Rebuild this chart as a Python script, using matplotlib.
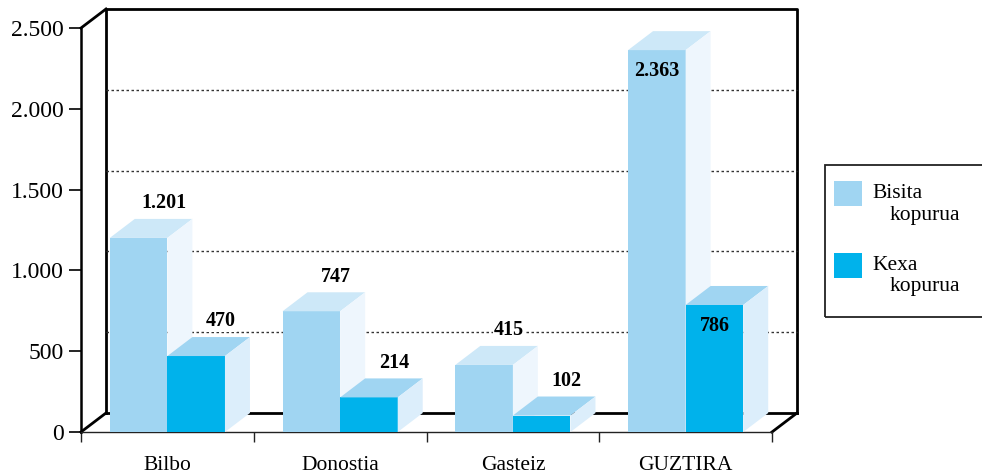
import numpy as np
import matplotlib
matplotlib.use('Agg')
import matplotlib.pyplot as plt
from matplotlib.patches import Polygon, Rectangle

# Data
categories = ['Bilbo', 'Donostia', 'Gasteiz', 'GUZTIRA']
bisita = [1201, 747, 415, 2363]
kexa = [470, 214, 102, 786]
series_names = ['Bisita\nkopurua', 'Kexa\nkopurua']
yticks = [0, 500, 1000, 1500, 2000, 2500]
ytick_labels = ['0', '500', '1.000', '1.500', '2.000', '2.500']
labels_inside = [False, False, False, True]

# Colours: front, top, side
bisita_cols = ('#a0d5f2', '#cde8f8', '#eef6fd')
kexa_cols = ('#00b2eb', '#a0d5f2', '#dceefb')

fig = plt.figure(figsize=(9.82, 4.73), dpi=100)
ax = fig.add_axes([81 / 982, 41 / 473, 691 / 982, 404 / 473])
ax.set_xlim(-0.5, len(categories) - 0.5)
ax.set_ylim(0, 2500)

# depth offset of the pseudo 3D look (25 px right, 19 px up)
dx = 25 / (691 / len(categories))
dy = 19 / (404 / 2500)
w = 1 / 3
x = np.arange(len(categories))
x0, x1 = -0.5, len(categories) - 0.5

# back wall, floor edges and dotted grid
wall = dict(color='black', lw=2, clip_on=False, zorder=1, solid_capstyle='projecting')
ax.plot([x0 + dx, x0 + dx, x1 + dx, x1 + dx], [dy, 2500 + dy, 2500 + dy, dy], **wall)
ax.plot([x0 + dx, x1 + dx], [dy, dy], **wall)
ax.plot([x0, x0 + dx], [2500, 2500 + dy], **wall)
ax.plot([x0, x0 + dx], [0, dy], **wall)
ax.plot([x1, x1 + dx], [0, dy], **wall)
for v in yticks[1:-1]:
    ax.plot([x0 + dx, x1 + dx], [v + dy, v + dy], color='#333333', lw=1.0,
            ls=(0, (1.8, 1.8)), clip_on=False, zorder=1)


def draw_bar(xl, val, cols):
    front, top, side = cols
    ax.bar(xl, val, w, align='edge', color=front, zorder=3, linewidth=0)
    ax.add_patch(Polygon([(xl, val), (xl + dx, val + dy), (xl + w + dx, val + dy), (xl + w, val)],
                         closed=True, fc=top, ec='none', zorder=3, clip_on=False))
    ax.add_patch(Polygon([(xl + w, 0), (xl + w, val), (xl + w + dx, val + dy), (xl + w + dx, dy)],
                         closed=True, fc=side, ec='none', zorder=3, clip_on=False))


def fmt(v):
    return f'{v:,}'.replace(',', '.')


for i, c in enumerate(x):
    for xl, val, cols in [(c - w, bisita[i], bisita_cols), (c, kexa[i], kexa_cols)]:
        draw_bar(xl, val, cols)
        if labels_inside[i]:
            ax.annotate(fmt(val), (xl + w / 2, val), xytext=(0, -8), textcoords='offset points',
                        ha='center', va='top', fontsize=14.5, fontweight='bold',
                        family='Liberation Serif', zorder=5)
        else:
            ax.annotate(fmt(val), (xl + w / 2 + dx, val + dy), xytext=(0, 4), textcoords='offset points',
                        ha='center', va='bottom', fontsize=14.5, fontweight='bold',
                        family='Liberation Serif', zorder=5,
                        bbox=dict(fc='white', ec='none', pad=0.5))

# axes styling
for s in ['top', 'right']:
    ax.spines[s].set_visible(False)
ax.spines['left'].set_linewidth(1.8)
ax.spines['bottom'].set_linewidth(1.0)
ax.spines['bottom'].set_color('#222222')
ax.set_yticks(yticks)
ax.set_yticklabels(ytick_labels, family='Liberation Serif', fontsize=17)
ax.tick_params(axis='y', length=8.5, width=1.2, pad=4)
ax.set_xticks(x)
ax.set_xticklabels(categories, family='Liberation Serif', fontsize=15.5)
ax.set_xticks(np.arange(len(categories) + 1) - 0.5, minor=True)
ax.tick_params(axis='x', which='major', length=0, pad=17)
ax.tick_params(axis='x', which='minor', length=7.5, width=1.0, color='#222222')
ax.patch.set_visible(False)

# legend drawn by hand (box runs off the right edge)
fig.patches.append(Rectangle((825 / 982, 156 / 473), 0.2, 152 / 473, transform=fig.transFigure,
                             fill=False, ec='#222222', lw=1.3))
for j, (name, col) in enumerate(zip(series_names, [bisita_cols[0], kexa_cols[0]])):
    top_px = 181 + j * 72
    fig.patches.append(Rectangle((834 / 982, (473 - top_px - 25) / 473), 28 / 982, 25 / 473,
                                 transform=fig.transFigure, fc=col, ec='none'))
    first, second = name.split('\n')
    fig.text(872 / 982, (473 - top_px - 12) / 473, first, family='Liberation Serif',
             fontsize=15.5, va='center', ha='left')
    fig.text(890 / 982, (473 - top_px - 34) / 473, second, family='Liberation Serif',
             fontsize=15.5, va='center', ha='left')

fig.savefig('out.png', dpi=100)
